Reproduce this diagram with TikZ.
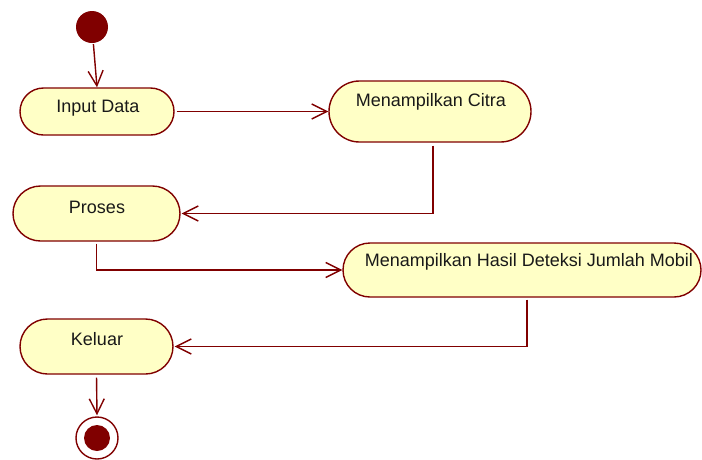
\documentclass[tikz,border=0pt]{standalone}
\usepackage{fontspec}
\setmainfont{Liberation Sans}
\usetikzlibrary{arrows.meta}
\definecolor{umlred}{HTML}{800000}
\definecolor{umlfill}{HTML}{FFFFC6}
\tikzset{
  actbox/.style={draw=umlred, fill=umlfill, line width=1.4pt, rounded corners=#1, inner sep=0pt},
  acttext/.style={font=\fontsize{18}{21}\selectfont, text=black!90, inner sep=0pt},
  flow/.style={draw=umlred, line width=1.4pt, -{Straight Barb[length=15pt,width=15pt,line width=1.4pt]}},
}
\begin{document}
\begin{tikzpicture}[x=1pt,y=-1pt]
  \useasboundingbox (0,0) rectangle (702,459);
  % initial and final states
  \node[circle, fill=umlred, minimum size=32pt, inner sep=0pt] (start) at (92,27) {};
  \node[circle, draw=umlred, fill=white, line width=1.4pt, minimum size=42pt, inner sep=0pt] (stop) at (97,438) {};
  \node[circle, fill=umlred, minimum size=26pt, inner sep=0pt] (stopdot) at (97,438) {};
  % activities
  \node[actbox=23.5pt, minimum width=154pt, minimum height=47pt] (input) at (97,111.5) {};
  \node[acttext] (inputt) at (98,108) {Input Data};
  \node[actbox=30.5pt, minimum width=202pt, minimum height=61pt] (citra) at (430,111.5) {};
  \node[acttext] (citrat) at (431,102) {Menampilkan Citra};
  \node[actbox=27.5pt, minimum width=167pt, minimum height=55pt] (proses) at (96.5,213.5) {};
  \node[acttext] (prosest) at (97,207) {Proses};
  \node[actbox=27pt, minimum width=358pt, minimum height=54pt] (hasil) at (522,270) {};
  \node[acttext] (hasilt) at (529,262) {Menampilkan Hasil Deteksi Jumlah Mobil};
  \node[actbox=27.5pt, minimum width=153pt, minimum height=55pt] (keluar) at (96.5,346.5) {};
  \node[acttext] (keluart) at (97,339) {Keluar};
  % control flows
  \draw[flow, shorten <=1pt] (start) -- (input.north);
  \draw[flow, shorten <=2pt] (input.east) -- (citra.west);
  \draw[flow, shorten <=3pt, shorten >=1pt] ([xshift=3pt]citra.south) |- (proses.east);
  \draw[flow, shorten <=2pt] (proses.south) |- (hasil.west);
  \draw[flow, shorten <=2pt, shorten >=1pt] ([xshift=5pt]hasil.south) |- (keluar.east);
  \draw[flow, shorten <=3pt, shorten >=1pt] (keluar.south) -- (stop.north);
\end{tikzpicture}
\end{document}
